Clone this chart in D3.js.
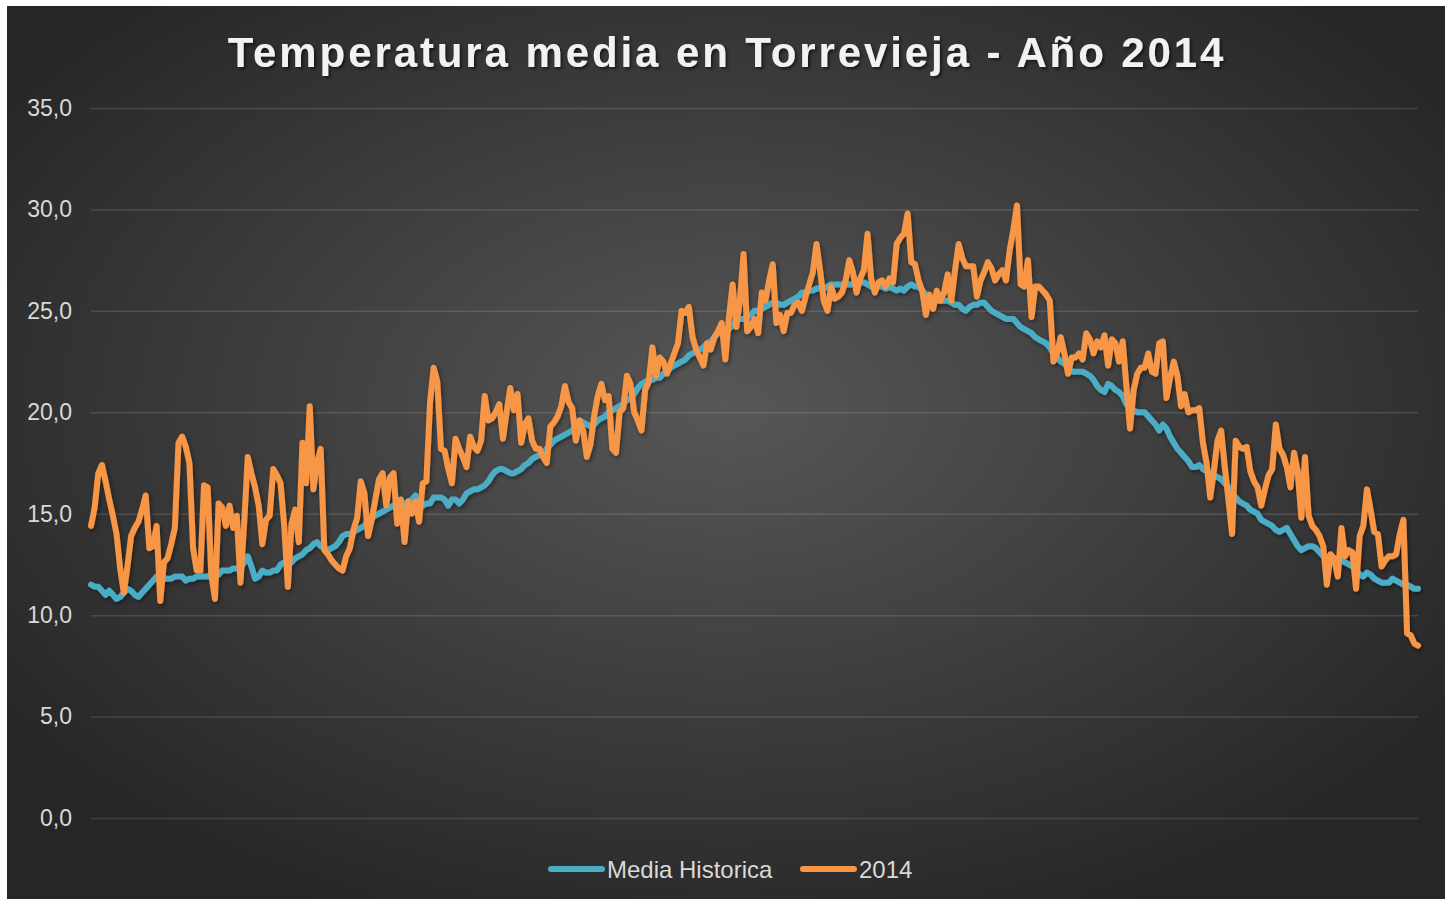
<!DOCTYPE html>
<html lang="es">
<head>
  <meta charset="UTF-8">
  <title>Temperatura media en Torrevieja</title>
  <style>
    html, body { margin: 0; padding: 0; background: #fff; }
    svg { display: block; }
    text { font-family: "Liberation Sans", Arial, sans-serif; }
  </style>
</head>
<body>
  <svg class="line-chart"></svg>
  <script src="https://cdn.jsdelivr.net/npm/d3@7"></script>
  <script>
    let title = 'Temperatura media en Torrevieja - Año 2014'
    let seriesNames = ['Media Historica', '2014']
    let yTicks = [0, 5, 10, 15, 20, 25, 30, 35]

    // media historica, un valor por dia (1 ene - 31 dic)
    let mediaHistorica = [
      11.5,11.4,11.4,11.2,11.0,11.2,11.0,10.8,10.9,11.1,
      11.3,11.2,11.0,10.9,11.1,11.3,11.5,11.7,11.9,11.9,
      11.8,11.8,11.8,11.9,11.9,11.9,11.7,11.8,11.8,11.9,
      11.9,11.9,11.9,12.0,11.9,12.0,12.2,12.2,12.2,12.3,
      12.3,12.3,12.6,12.9,12.4,11.8,11.9,12.2,12.1,12.1,
      12.2,12.2,12.5,12.6,12.6,12.6,12.8,12.9,13.0,13.2,
      13.3,13.5,13.6,13.4,13.3,13.2,13.3,13.4,13.6,13.9,
      14.0,14.0,14.1,14.2,14.3,14.4,14.7,14.8,14.9,15.0,
      15.1,15.2,15.3,15.4,15.4,15.4,15.5,15.6,15.7,15.9,
      15.4,15.4,15.5,15.5,15.8,15.8,15.8,15.7,15.4,15.7,
      15.7,15.5,15.7,16.0,16.1,16.2,16.2,16.3,16.4,16.6,
      16.9,17.1,17.2,17.2,17.1,17.0,17.0,17.1,17.2,17.4,
      17.5,17.7,17.8,17.9,18.0,18.2,18.4,18.6,18.7,18.8,
      18.9,19.0,19.1,19.3,19.6,19.5,19.4,19.3,19.4,19.6,
      19.7,19.8,20.0,20.1,20.2,20.3,20.4,20.6,20.7,20.9,
      21.2,21.4,21.5,21.6,21.6,21.7,21.7,21.9,22.0,22.2,
      22.3,22.4,22.5,22.6,22.8,22.9,23.0,23.1,23.2,23.4,
      23.5,23.7,23.9,24.0,24.0,24.1,24.3,24.5,24.6,24.6,
      24.7,24.8,25.0,25.0,25.1,25.2,25.3,25.4,25.4,25.3,
      25.3,25.4,25.5,25.6,25.7,25.9,25.9,26.0,26.0,26.1,
      26.1,26.1,26.2,26.3,26.3,26.3,26.3,26.3,26.3,26.3,
      26.4,26.4,26.4,26.3,26.2,26.2,26.2,26.2,26.1,26.2,
      26.1,26.0,26.1,26.0,26.2,26.3,26.2,26.2,26.0,25.8,
      25.7,25.6,25.5,25.5,25.5,25.5,25.4,25.3,25.3,25.1,
      25.0,25.2,25.3,25.3,25.4,25.4,25.2,25.0,24.9,24.8,
      24.7,24.6,24.6,24.6,24.4,24.2,24.1,24.0,23.9,23.7,
      23.6,23.5,23.4,23.2,22.9,22.7,22.5,22.4,22.2,22.0,
      22.0,22.0,22.0,21.9,21.8,21.6,21.3,21.1,21.0,21.4,
      21.3,21.1,21.0,20.8,20.4,20.2,20.1,20.0,20.0,20.0,
      19.8,19.6,19.4,19.1,19.4,19.2,18.8,18.5,18.2,18.0,
      17.8,17.6,17.3,17.3,17.4,17.2,17.1,17.0,16.9,16.8,
      16.7,16.5,16.3,16.0,15.8,15.6,15.5,15.4,15.2,15.1,
      15.0,14.7,14.6,14.5,14.4,14.2,14.1,14.2,14.3,14.0,
      13.7,13.4,13.2,13.3,13.4,13.4,13.3,13.1,12.9,12.9,
      12.8,12.8,12.7,12.7,12.6,12.5,12.4,12.2,12.0,11.9,
      12.1,12.0,11.8,11.7,11.6,11.6,11.6,11.8,11.7,11.6,
      11.5,11.5,11.4,11.3,11.3
    ]

    // año 2014, un valor por dia
    let temp2014 = [
      14.4,15.3,17.0,17.4,16.6,15.7,14.9,14.0,12.3,11.1,
      12.4,13.9,14.3,14.6,15.2,15.9,13.3,13.4,14.4,10.7,
      12.6,12.8,13.5,14.3,18.5,18.8,18.3,17.5,13.3,12.2,
      12.2,16.4,16.3,12.0,10.8,15.5,15.3,14.4,15.4,14.3,
      14.9,11.6,14.5,17.8,17.0,16.3,15.4,13.5,14.7,14.9,
      17.2,16.9,16.5,14.4,11.4,14.5,15.2,13.6,18.5,16.5,
      20.3,16.2,17.5,18.2,13.2,13.0,12.7,12.5,12.3,12.2,
      12.9,13.3,14.2,14.8,16.6,16.0,13.9,14.7,15.7,16.7,
      17.0,15.4,16.8,17.0,14.5,15.7,13.6,15.6,15.0,15.6,
      14.6,16.5,16.6,20.5,22.2,21.5,18.2,18.1,17.2,16.5,
      18.7,18.2,17.8,17.3,18.8,18.3,18.1,18.6,20.8,19.6,
      19.7,20.0,20.4,18.7,20.0,21.2,20.1,20.9,18.5,19.4,
      19.7,18.6,18.2,18.2,17.8,17.5,19.3,19.5,19.8,20.3,
      21.3,20.5,20.2,18.6,19.6,19.1,17.8,18.4,19.8,20.8,
      21.4,20.6,20.8,18.2,18.0,20.0,20.2,21.8,21.4,20.0,
      19.6,19.1,21.1,21.5,23.2,21.8,22.7,22.5,21.9,22.4,
      22.9,23.4,25.0,24.9,25.2,23.7,23.1,22.7,22.3,23.4,
      23.1,23.7,24.0,24.4,22.6,24.7,26.3,24.2,25.5,27.8,
      24.0,24.2,24.6,23.9,25.9,25.5,26.5,27.3,24.4,24.8,
      24.0,24.9,24.9,25.3,25.4,25.0,25.7,26.3,26.9,28.3,
      27.0,25.5,25.0,26.2,25.6,25.7,25.9,26.5,27.5,26.9,
      25.9,26.6,27.0,28.8,26.6,25.9,26.4,26.5,26.2,26.6,
      26.4,28.3,28.6,28.8,29.8,27.4,27.3,26.5,26.0,24.8,
      25.8,25.1,26.0,25.5,25.9,26.8,25.5,27.0,28.3,27.6,
      27.2,27.2,27.2,25.7,26.5,26.9,27.4,27.1,26.5,26.8,
      27.0,26.5,28.0,29.0,30.2,26.3,26.2,27.5,24.7,26.2,
      26.2,26.0,25.8,25.5,22.5,22.9,23.7,22.9,21.9,22.7,
      22.7,22.9,22.6,23.9,23.6,22.9,23.5,23.2,23.8,22.3,
      23.6,23.4,22.5,23.5,21.3,19.2,21.1,21.9,22.2,22.2,
      22.9,22.0,21.9,23.4,23.5,20.7,21.7,22.5,21.8,20.3,
      20.9,20.0,20.1,20.1,20.2,18.5,17.5,15.8,17.1,18.6,
      19.1,17.3,15.7,14.0,18.6,18.3,18.2,18.3,17.1,16.6,
      16.3,15.4,16.2,16.9,17.2,19.4,18.2,17.9,17.3,16.3,
      18.0,17.1,14.8,17.8,14.9,14.4,14.2,13.9,13.4,11.5,
      13.0,12.8,11.9,14.3,12.9,13.2,13.1,11.3,13.9,14.4,
      16.2,15.2,14.1,14.0,12.4,12.7,12.9,12.9,13.0,14.0,
      14.7,9.1,9.0,8.6,8.5
    ]

    let colors = ['#4bacc6', '#f79646']

    let svgWidth = 1452, svgHeight = 901
    let margin = { top: 108, right: 34, bottom: 83, left: 91 }

    let svg = d3.select('svg')
      .attr('width', svgWidth)
      .attr('height', svgHeight)

    let defs = svg.append('defs')
    let grad = defs.append('radialGradient')
      .attr('id', 'bg')
      .attr('cx', '50%').attr('cy', '45%').attr('r', '62%')
    grad.append('stop').attr('offset', '0%').attr('stop-color', '#575757')
    grad.append('stop').attr('offset', '100%').attr('stop-color', '#262626')

    let shadow = defs.append('filter').attr('id', 'shadow')
      .attr('x', '-5%').attr('y', '-20%').attr('width', '110%').attr('height', '150%')
    shadow.append('feDropShadow')
      .attr('dx', 2).attr('dy', 2).attr('stdDeviation', 1.5)
      .attr('flood-color', '#000').attr('flood-opacity', 0.55)

    let lineShadow = defs.append('filter').attr('id', 'lineShadow')
      .attr('x', '-2%').attr('y', '-5%').attr('width', '104%').attr('height', '110%')
    lineShadow.append('feDropShadow')
      .attr('dx', 1.5).attr('dy', 2).attr('stdDeviation', 2)
      .attr('flood-color', '#000').attr('flood-opacity', 0.45)

    svg.append('rect')
      .attr('x', 7).attr('y', 6)
      .attr('width', 1438).attr('height', 893)
      .attr('fill', 'url(#bg)')

    svg.append('text')
      .attr('x', 727).attr('y', 67)
      .attr('text-anchor', 'middle')
      .attr('fill', '#f2f2f2')
      .attr('font-size', 42)
      .attr('font-weight', 'bold')
      .attr('letter-spacing', 2.9)
      .attr('filter', 'url(#shadow)')
      .text(title)

    let n = temp2014.length
    let x = d3.scaleLinear()
      .domain([0, n - 1])
      .range([margin.left, svgWidth - margin.right])

    let y = d3.scaleLinear()
      .domain([0, 35])
      .range([svgHeight - margin.bottom, margin.top])

    let fmt = d => d3.format('.1f')(d).replace('.', ',')

    // gridlines
    svg.append('g')
      .attr('transform', `translate(${margin.left},0)`)
      .call(d3.axisLeft(y).tickValues(yTicks).tickSize(-(svgWidth - margin.right - margin.left)).tickFormat(''))
      .call(g => g.select('.domain').remove())
      .call(g => g.selectAll('line').attr('stroke', '#ffffff').attr('stroke-opacity', 0.13).attr('stroke-width', 1.5))

    // y labels
    svg.append('g')
      .attr('transform', `translate(${margin.left - 19},0)`)
      .call(d3.axisLeft(y).tickValues(yTicks).tickSize(0).tickPadding(0).tickFormat(fmt))
      .call(g => g.select('.domain').remove())
      .call(g => g.selectAll('text')
        .attr('fill', '#d9d9d9')
        .attr('font-size', 23)
        .attr('font-family', '"Liberation Sans", Arial, sans-serif'))

    let line = d3.line()
      .x((d, i) => x(i))
      .y(d => y(d))

    let series = [mediaHistorica, temp2014]
    svg.append('g')
      .attr('filter', 'url(#lineShadow)')
      .selectAll('path')
      .data(series)
      .enter()
      .append('path')
      .attr('d', line)
      .attr('fill', 'none')
      .attr('stroke', (d, i) => colors[i])
      .attr('stroke-width', 6)
      .attr('stroke-linejoin', 'round')
      .attr('stroke-linecap', 'round')

    // legend
    let legendItems = [
      { name: seriesNames[0], color: colors[0], x: 548 },
      { name: seriesNames[1], color: colors[1], x: 800 }
    ]
    let legend = svg.append('g')
      .selectAll('g')
      .data(legendItems)
      .enter()
      .append('g')
      .attr('transform', d => `translate(${d.x},869)`)

    legend.append('line')
      .attr('x1', 3).attr('x2', 54)
      .attr('stroke', d => d.color)
      .attr('stroke-width', 6)
      .attr('stroke-linecap', 'round')

    legend.append('text')
      .attr('x', 59).attr('y', 8.5)
      .attr('fill', '#d9d9d9')
      .attr('font-size', 24)
      .text(d => d.name)
  </script>
</body>
</html>
